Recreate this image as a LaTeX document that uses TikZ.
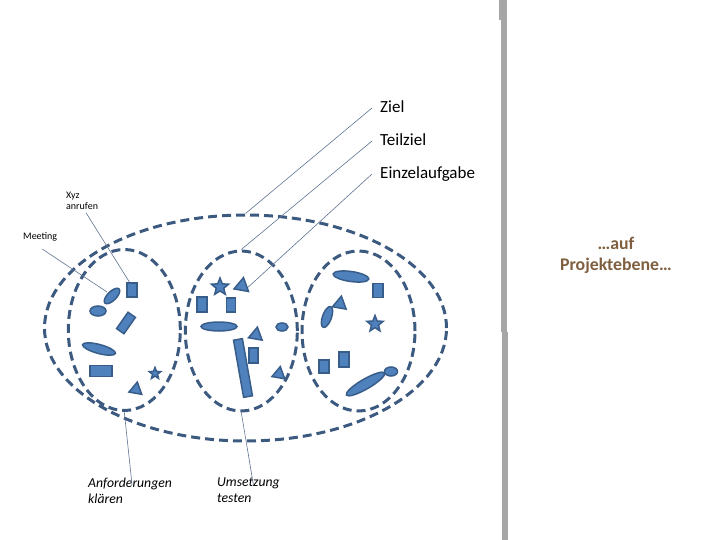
\documentclass[tikz,border=0pt]{standalone}
\usepackage{fontspec}
\setmainfont{Carlito}
\usetikzlibrary{shapes.geometric}
\definecolor{dashc}{RGB}{60,90,128}
\definecolor{fillc}{RGB}{79,129,189}
\definecolor{edgec}{RGB}{56,93,138}
\definecolor{leadc}{RGB}{95,115,145}
\definecolor{barc}{RGB}{166,166,166}
\definecolor{brownc}{RGB}{127,95,63}
\begin{document}
\begin{tikzpicture}[x=1pt,y=-1pt,
  grp/.style={draw=dashc,line width=3pt,dash pattern=on 9pt off 5pt,ellipse,inner sep=0pt},
  item/.style={draw=edgec,fill=fillc,line width=1.5pt,inner sep=0pt,outer sep=0pt},
  itemrect/.style={item,rectangle},
  itemoval/.style={item,ellipse},
  itemtri/.style={item,regular polygon,regular polygon sides=3,minimum size=17pt},
  itemstar/.style={item,star,star points=5,star point ratio=2.3},
  leader/.style={draw=leadc,line width=0.6pt},
  lbl/.style={inner sep=0pt,font=\fontsize{17}{20}\selectfont,text height=11.5pt,text depth=3pt,anchor=west},
  small/.style={inner sep=0pt,font=\fontsize{10}{11.5}\selectfont,align=left},
  ital/.style={inner sep=0pt,font=\fontsize{13.7}{15.5}\selectfont\itshape,align=left,anchor=north west}
]
\useasboundingbox (0,0) rectangle (720,540);
% gray bar
\fill[barc] (499,0) rectangle (507,20);
\fill[barc] (501,20) rectangle (507,332);
\fill[barc] (502,332) rectangle (508,540);
% right text
\node[inner sep=0pt,align=center,text=brownc,font=\fontsize{17.8}{20.5}\selectfont\bfseries] (auf) at (616,255.5) {…auf\\Projektebene…};

% groups
\node[grp,minimum width=402pt,minimum height=226pt] (proj) at (245.5,328) {};
\node[grp,minimum width=112pt,minimum height=161pt] (c1) at (124.3,330) {};
\node[grp,minimum width=112pt,minimum height=160pt] (c2) at (241.3,331) {};
\node[grp,minimum width=113pt,minimum height=160pt] (c3) at (358.5,331) {};

% labels
\node[lbl] (ziel) at (380,108) {Ziel};
\node[lbl] (teil) at (380,141) {Teilziel};
\node[lbl] (einz) at (380,174) {Einzelaufgabe};
\node[small,anchor=north west] (xyz) at (66,191.5) {Xyz\\anrufen};
\node[small,anchor=west] (meet) at (23,236.5) {Meeting};
\node[ital] (anf) at (88,478) {Anforderungen\\klären};
\node[ital] (ums) at (217,478) {Umsetzung\\testen};

% leader lines (behind items)
\coordinate (tri1tip) at (245,290);
\draw[leader] ([xshift=-8pt]ziel.west) -- (proj.north);
\draw[leader] ([xshift=-8pt]teil.west) -- (c2.north);
\draw[leader] ([xshift=-8pt]einz.west) -- (tri1tip);
\draw[leader] ([xshift=4pt,yshift=-3pt]xyz.south) -- (130,283);
\draw[leader] ([xshift=2pt,yshift=-8pt]meet.south) -- (107,292);
\draw[leader] ([xshift=2pt,yshift=-7pt]anf.north) -- (c1.south);
\draw[leader] ([xshift=5pt,yshift=-7pt]ums.north) -- (c2.south);

% items left
\node[itemrect,minimum width=10pt,minimum height=14pt] (l1) at (132,290) {};
\node[itemoval,minimum width=20pt,minimum height=9pt,rotate=45] (l2) at (112,296) {};
\node[itemoval,minimum width=16pt,minimum height=10pt] (l3) at (98,311) {};
\node[itemrect,minimum width=9pt,minimum height=20pt,rotate=-35] (l4) at (126,323) {};
\node[itemoval,minimum width=34pt,minimum height=9pt,rotate=-15] (l5) at (99,349) {};
\node[itemrect,minimum width=22pt,minimum height=11pt] (l6) at (101,371) {};
\node[itemstar,minimum size=12pt] (l7) at (155,373.5) {};
\node[itemtri,minimum size=15pt,rotate=-10] (l8) at (136,389.5) {};

% items middle
\node[itemstar,minimum size=18pt] (m1) at (220,287) {};
\node[itemtri,rotate=-10] (m2) at (242,286) {};
\node[itemrect,minimum width=10pt,minimum height=15pt] (m3) at (202,304.5) {};
\node[itemrect,minimum width=9pt,minimum height=14pt] (m4) at (231,305) {};
\node[itemoval,minimum width=36pt,minimum height=9pt] (m5) at (219,326.5) {};
\node[itemoval,minimum width=12pt,minimum height=8pt] (m6) at (282,327) {};
\node[itemtri,minimum size=16pt,rotate=-10] (m7) at (256,335) {};
\node[itemrect,minimum width=9pt,minimum height=58pt,rotate=10] (m8) at (243,368) {};
\node[itemrect,minimum width=9pt,minimum height=15pt] (m9) at (253.5,355.5) {};
\node[itemtri,minimum size=15pt,rotate=-10] (m10) at (279,374) {};

% items right
\node[itemoval,minimum width=36pt,minimum height=10pt,rotate=-8] (r1) at (351,276.5) {};
\node[itemrect,minimum width=10pt,minimum height=14pt] (r2) at (378,290.5) {};
\node[itemtri,minimum size=16pt,rotate=-10] (r3) at (340,304) {};
\node[itemoval,minimum width=22pt,minimum height=9pt,rotate=70] (r4) at (327,317) {};
\node[itemstar,minimum size=17pt] (r5) at (375,324) {};
\node[itemrect,minimum width=10pt,minimum height=15pt] (r6) at (344,359.5) {};
\node[itemrect,minimum width=10pt,minimum height=13pt] (r7) at (324,366.5) {};
\node[itemoval,minimum width=13pt,minimum height=9pt] (r8) at (391,371.5) {};
\node[itemoval,minimum width=44pt,minimum height=10pt,rotate=30] (r9) at (365.5,384) {};
\end{tikzpicture}
\end{document}
